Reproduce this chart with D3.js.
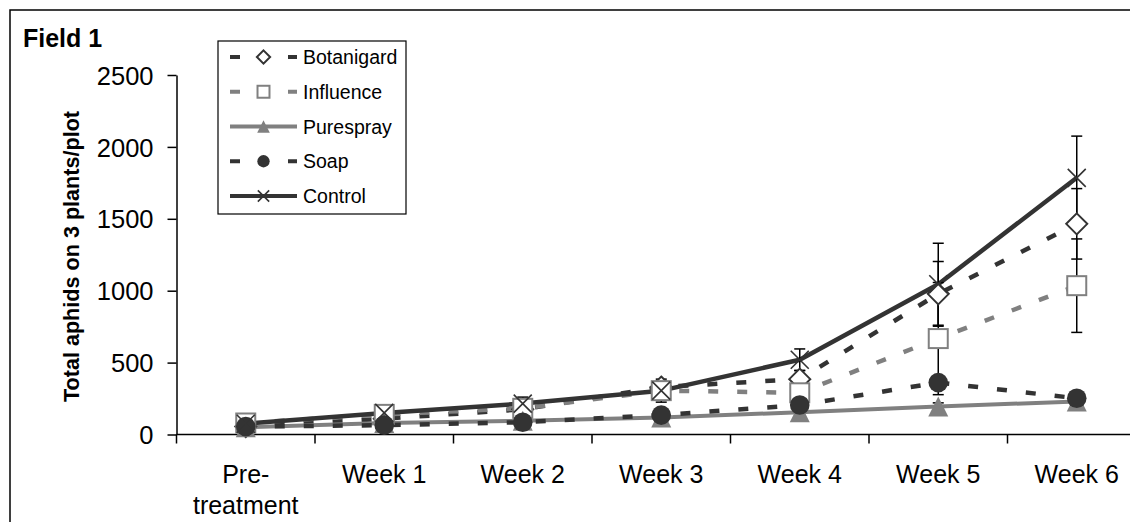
<!DOCTYPE html>
<html>
<head>
<meta charset="utf-8">
<script src="https://cdn.jsdelivr.net/npm/d3@7/dist/d3.min.js"></script>
<style>
  html, body { margin: 0; padding: 0; background: #fff; }
  svg { display: block; font-family: Arial, "Liberation Sans", sans-serif; }
</style>
</head>
<body>
<svg id="chart" width="1130" height="522"></svg>
<script>
// ---- data ----
const categories = ["Pre-treatment", "Week 1", "Week 2", "Week 3", "Week 4", "Week 5", "Week 6"];
const categoryLabels = [["Pre-", "treatment"], ["Week 1"], ["Week 2"], ["Week 3"], ["Week 4"], ["Week 5"], ["Week 6"]];
const seriesNames = ["Botanigard", "Influence", "Purespray", "Soap", "Control"];
const botanigard = [55, 110, 175, 330, 385, 978, 1465];
const influence  = [80, 140, 182, 305, 290, 667, 1035];
const purespray  = [50, 80, 95, 118, 155, 195, 230];
const soap       = [55, 65, 85, 135, 205, 361, 252];
const control    = [75, 150, 215, 305, 520, 1045, 1785];
const botanigardErr = [10, 20, 30, 40, 60, 225, 245];
const influenceErr  = [10, 20, 30, 40, 50, 390, 325];
const puresprayErr  = [5, 10, 10, 15, 20, 25, 30];
const soapErr       = [5, 10, 15, 20, 30, 45, 40];
const controlErr    = [15, 25, 45, 80, 75, 285, 290];
const yTicks = [0, 500, 1000, 1500, 2000, 2500];
const panelTitle = "Field 1";
const yTitle = "Total aphids on 3 plants/plot";

// ---- styles ----
const DARK = "#333333", GRAY = "#808080";
const styles = {
  Botanigard: { color: DARK, dash: "10,19", marker: "diamond" },
  Influence:  { color: GRAY, dash: "10,19", marker: "square" },
  Purespray:  { color: GRAY, dash: null,    marker: "triangle" },
  Soap:       { color: DARK, dash: "10,19", marker: "circle" },
  Control:    { color: DARK, dash: null,    marker: "x" }
};
const series = [
  { name: "Botanigard", values: botanigard, err: botanigardErr },
  { name: "Influence",  values: influence,  err: influenceErr },
  { name: "Purespray",  values: purespray,  err: puresprayErr },
  { name: "Soap",       values: soap,       err: soapErr },
  { name: "Control",    values: control,    err: controlErr }
];

const svg = d3.select("#chart");
const FONT = 'Arial, "Liberation Sans", sans-serif';

// outer frame (clipped on right/bottom like the reference)
svg.append("rect").attr("x", 10).attr("y", 10).attr("width", 1140).attr("height", 530)
  .attr("fill", "none").attr("stroke", "#000").attr("stroke-width", 1.5);

const x = d3.scaleBand().domain(categories).range([176.5, 1146]).padding(0);
const y = d3.scaleLinear().domain([0, 2500]).range([434.5, 75]);
const cx = c => x(c) + x.bandwidth() / 2;

// y axis
const yAxis = svg.append("g").attr("transform", "translate(176.5,0)")
  .call(d3.axisLeft(y).tickValues(yTicks).tickSize(9).tickPadding(14).tickSizeOuter(0).tickFormat(d3.format("d")));
yAxis.select(".domain").attr("stroke", "#000").attr("stroke-width", 1.5);
yAxis.selectAll(".tick line").attr("stroke", "#000").attr("stroke-width", 1.5);
yAxis.selectAll(".tick text").attr("font-size", 25.5).attr("font-family", FONT).attr("fill", "#000").attr("dy", "0.36em");

// x axis line + boundary ticks
const xAxisG = svg.append("g").attr("transform", "translate(0,434.5)");
xAxisG.append("line").attr("x1", x.range()[0]).attr("x2", x.range()[1]).attr("y1", 0).attr("y2", 0)
  .attr("stroke", "#000").attr("stroke-width", 1.5);
const edges = categories.map(c => x(c)).concat([x.range()[1]]);
xAxisG.selectAll("line.tk").data(edges).enter().append("line").attr("class", "tk")
  .attr("x1", d => d).attr("x2", d => d).attr("y1", 0).attr("y2", 9)
  .attr("stroke", "#000").attr("stroke-width", 1.5);
const xl = svg.append("g").selectAll("text").data(categories).enter().append("text")
  .attr("x", d => cx(d)).attr("y", 482.5).attr("text-anchor", "middle")
  .attr("font-size", 25).attr("font-family", FONT).attr("fill", "#000");
xl.each(function(d, i) {
  const t = d3.select(this);
  categoryLabels[i].forEach((ln, j) => {
    t.append("tspan").attr("x", cx(d)).attr("dy", j === 0 ? 0 : 31).text(ln);
  });
});

// titles
svg.append("text").attr("x", 23).attr("y", 46.5).attr("font-size", 25).attr("font-weight", "bold")
  .attr("font-family", FONT).text(panelTitle);
svg.append("text").attr("transform", "translate(78.5,256.5) rotate(-90)").attr("text-anchor", "middle")
  .attr("font-size", 21.6).attr("font-weight", "bold").attr("font-family", FONT).text(yTitle);

// marker drawing
function drawMarker(g, type, color, s) {
  if (type === "diamond") {
    const r = 10.5 * s;
    g.append("path").attr("d", `M0,${-r}L${r},0L0,${r}L${-r},0Z`).attr("fill", "#fff")
      .attr("stroke", color).attr("stroke-width", 2);
  } else if (type === "square") {
    const r = 9.5 * s;
    g.append("rect").attr("x", -r).attr("y", -r).attr("width", 2 * r).attr("height", 2 * r)
      .attr("fill", "#fff").attr("stroke", color).attr("stroke-width", 2);
  } else if (type === "triangle") {
    const r = 10 * s;
    g.append("path").attr("d", `M0,${-r}L${r},${r}L${-r},${r}Z`).attr("fill", color);
  } else if (type === "circle") {
    g.append("circle").attr("r", 9.8 * s).attr("fill", color);
  } else if (type === "x") {
    const r = 9 * s;
    g.append("path").attr("d", `M${-r},${-r}L${r},${r}M${-r},${r}L${r},${-r}`)
      .attr("stroke", color).attr("stroke-width", 1.6).attr("fill", "none");
  }
}

const plot = svg.append("g");
const line = d3.line().x((d, i) => cx(categories[i])).y(d => y(d));

// lines
series.forEach(s => {
  const st = styles[s.name];
  plot.append("path").datum(s.values).attr("d", line).attr("fill", "none")
    .attr("stroke", st.color).attr("stroke-width", st.dash ? 4.5 : (s.name === "Control" ? 4.5 : 4))
    .attr("stroke-dasharray", st.dash).attr("stroke-linejoin", "round");
});

// error bars
series.forEach(s => {
  s.values.forEach((v, i) => {
    const xx = cx(categories[i]);
    const hi = y(v + s.err[i]), lo = y(Math.max(0, v - s.err[i]));
    const g = plot.append("g").attr("stroke", "#000").attr("stroke-width", 1.5);
    g.append("line").attr("x1", xx).attr("x2", xx).attr("y1", hi).attr("y2", lo);
    g.append("line").attr("x1", xx - 5.5).attr("x2", xx + 5.5).attr("y1", hi).attr("y2", hi);
    g.append("line").attr("x1", xx - 5.5).attr("x2", xx + 5.5).attr("y1", lo).attr("y2", lo);
  });
});

// markers
series.forEach(s => {
  const st = styles[s.name];
  s.values.forEach((v, i) => {
    const g = plot.append("g").attr("transform", `translate(${cx(categories[i])},${y(v)})`);
    drawMarker(g, st.marker, st.color, 1);
  });
});

// legend
const lg = svg.append("g");
lg.append("rect").attr("x", 218).attr("y", 41).attr("width", 188).attr("height", 173)
  .attr("fill", "#fff").attr("stroke", "#000").attr("stroke-width", 1.2);
seriesNames.forEach((name, i) => {
  const st = styles[name];
  const yy = 57 + i * 34.75;
  lg.append("line").attr("x1", 230).attr("x2", 297).attr("y1", yy).attr("y2", yy)
    .attr("stroke", st.color).attr("stroke-width", 4).attr("stroke-dasharray", st.dash);
  const mg = lg.append("g").attr("transform", `translate(263.5,${yy})`);
  drawMarker(mg, st.marker, st.color, 0.63);
  lg.append("text").attr("x", 303).attr("y", yy).attr("dy", "0.36em").attr("font-size", 19.5)
    .attr("font-family", FONT).attr("fill", "#000").text(name);
});
</script>
</body>
</html>
